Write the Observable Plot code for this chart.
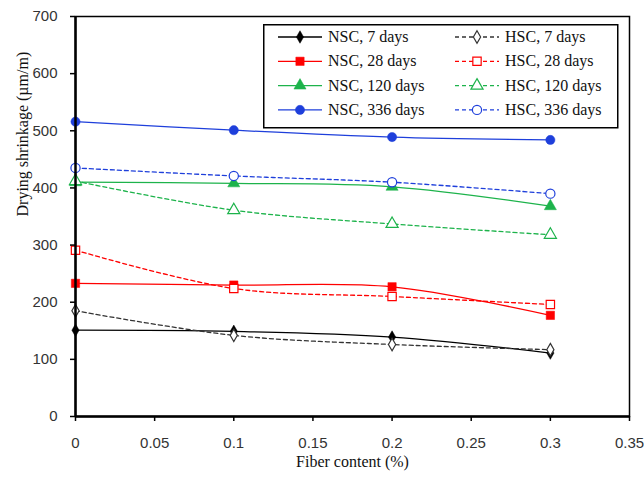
<!DOCTYPE html>
<html><head><meta charset="utf-8">
<script src="https://cdn.jsdelivr.net/npm/d3@7"></script>
<script src="https://cdn.jsdelivr.net/npm/@observablehq/plot@0.6"></script>
<style>
body{margin:0;background:#fff;}
#wrap{position:relative;width:644px;height:480px;}
#legend{position:absolute;left:263px;top:24px;}
</style></head>
<body><div id="wrap"></div>
<script>
const fiber = [0, 0.1, 0.2, 0.3];
const nsc7   = [151, 149, 139, 111];
const nsc28  = [233, 230, 227, 177];
const nsc120 = [410, 408, 402, 368];
const nsc336 = [516, 501, 489, 484];
const hsc7   = [185, 142, 126, 117];
const hsc28  = [291, 224, 210, 196];
const hsc120 = [412, 361, 337, 318];
const hsc336 = [435, 421, 410, 390];
const xTicks = [0, 0.05, 0.1, 0.15, 0.2, 0.25, 0.3, 0.35];
const yTicks = [0, 100, 200, 300, 400, 500, 600, 700];

const series = [
  {name:"NSC, 7 days",   values:nsc7,   color:"#000000", symbol:"diamond", filled:true,  r:3.8},
  {name:"HSC, 7 days",   values:hsc7,   color:"#333333", symbol:"diamond", filled:false, r:3.8},
  {name:"NSC, 28 days",  values:nsc28,  color:"#ff0000", symbol:"square",  filled:true,  r:4.7},
  {name:"HSC, 28 days",  values:hsc28,  color:"#ff0000", symbol:"square",  filled:false, r:4.7},
  {name:"NSC, 120 days", values:nsc120, color:"#1db34b", symbol:"triangle",filled:true,  r:4.5},
  {name:"HSC, 120 days", values:hsc120, color:"#1db34b", symbol:"triangle",filled:false, r:4.5},
  {name:"NSC, 336 days", values:nsc336, color:"#1e3fdb", symbol:"circle",  filled:true,  r:4.6},
  {name:"HSC, 336 days", values:hsc336, color:"#1e3fdb", symbol:"circle",  filled:false, r:4.6}
];

const marks = [];
for (const s of series) {
  const rows = fiber.map((f, i) => ({x: f, y: s.values[i]}));
  marks.push(Plot.line(rows, {x:"x", y:"y", stroke:s.color, strokeWidth:1.3,
    curve:"catmull-rom", strokeDasharray: s.filled ? null : "4,3"}));
}
for (const s of series) {
  const rows = fiber.map((f, i) => ({x: f, y: s.values[i]}));
  marks.push(Plot.dot(rows, {x:"x", y:"y", symbol:()=>s.symbol, r:s.r,
    fill: s.filled ? s.color : "white", stroke:s.color, strokeWidth: s.filled ? 0.5 : 1.2}));
}

const chart = Plot.plot({
  width:644, height:480,
  marginLeft:75, marginRight:15, marginTop:16, marginBottom:64,
  style:{fontFamily:"'Liberation Sans', Arial, sans-serif", fontSize:"15px", color:"#333", background:"white"},
  x:{domain:[0,0.35]},
  y:{domain:[0,700]},
  symbol:{type:"identity"},
  marks:[
    Plot.frame({stroke:"black", strokeWidth:1.5}),
    ...marks,
    Plot.axisX({ticks:xTicks, tickSize:5, tickPadding:16, tickFormat:d=>String(+d.toFixed(2)), label:null, stroke:"black", strokeWidth:1.5}),
    Plot.axisY({ticks:yTicks, tickSize:5, tickPadding:13, label:null, stroke:"black", strokeWidth:1.5}),
    Plot.ruleX([0], {stroke:"black", strokeWidth:2.5}),
    Plot.ruleY([0], {stroke:"black", strokeWidth:2.5}),
    Plot.text(["Fiber content (%)"], {frameAnchor:"bottom", dy:50, fontFamily:"'Liberation Serif', serif", fontSize:16, fill:"#111"}),
    Plot.text(["Drying shrinkage (\u00b5m/m)"], {frameAnchor:"left", dx:-53, rotate:-90, fontFamily:"'Liberation Serif', serif", fontSize:16, fill:"#111"})
  ]
});
document.getElementById("wrap").appendChild(chart);

// legend
const lw = 354, lh = 103;
const leg = d3.select("#wrap").append("svg").attr("id","legend").attr("width",lw+2).attr("height",lh+2);
leg.append("rect").attr("x",0.75).attr("y",0.75).attr("width",lw).attr("height",lh)
  .attr("fill","white").attr("stroke","black").attr("stroke-width",1.5);
const symMap = {diamond:d3.symbolDiamond, square:d3.symbolSquare, triangle:d3.symbolTriangle, circle:d3.symbolCircle};
series.forEach((s, i) => {
  const col = i % 2, row = Math.floor(i / 2);
  const x0 = col === 0 ? 15 : 192;
  const y0 = 13 + row * 24.3;
  const g = leg.append("g").attr("transform", `translate(${x0},${y0})`);
  g.append("line").attr("x1",0).attr("x2",44).attr("y1",0).attr("y2",0)
    .attr("stroke",s.color).attr("stroke-width",1.3)
    .attr("stroke-dasharray", s.filled ? null : "4,3");
  g.append("path").attr("transform","translate(22,0)")
    .attr("d", d3.symbol(symMap[s.symbol], Math.PI*s.r*s.r)())
    .attr("fill", s.filled ? s.color : "white").attr("stroke", s.color)
    .attr("stroke-width", s.filled ? 0.5 : 1.2);
  g.append("text").attr("x",50).attr("y",5).text(s.name)
    .attr("font-family","'Liberation Serif', serif").attr("font-size",16).attr("fill","#111");
});
</script></body></html>
